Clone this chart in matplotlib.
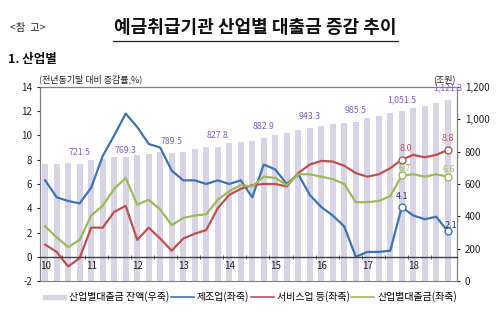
import numpy as np
import matplotlib

matplotlib.use("Agg")
import matplotlib.pyplot as plt
from matplotlib.lines import Line2D
from matplotlib.patches import Patch

plt.rcParams["font.family"] = ["Noto Sans CJK KR", "DejaVu Sans"]
plt.rcParams["axes.unicode_minus"] = False

# 분기별 (2010.1Q ~ 2018.4Q)
years = ["10", "11", "12", "13", "14", "15", "16", "17", "18"]

# 산업별대출금 잔액(조원, 우축)
balance = [722, 722, 727, 721.5, 748, 754, 769, 769.3,
           779, 785, 800, 789.5, 800, 814, 830, 827.8,
           851, 861, 867, 882.9, 903, 913, 933, 943.3,
           959, 970, 979, 985.5, 1010, 1020, 1037, 1051.5,
           1068, 1082, 1103, 1121.3]

# 전년동기말 대비 증감률(%, 좌축)
manuf = [6.3, 4.9, 4.6, 4.4, 5.7, 8.3, 10.0, 11.8,
         10.7, 9.3, 9.0, 7.1, 6.3, 6.3, 6.0, 6.3,
         6.0, 6.3, 4.9, 7.6, 7.2, 6.0, 6.8, 5.1,
         4.1, 3.4, 2.5, 0.0, 0.4, 0.4, 0.5, 4.1,
         3.4, 3.1, 3.3, 2.1]
service = [1.0, 0.4, -0.8, -0.1, 2.4, 2.4, 3.7, 4.2,
           1.4, 2.4, 1.5, 0.5, 1.5, 1.9, 2.2, 4.0,
           5.1, 5.6, 5.9, 6.0, 6.0, 5.8, 6.9, 7.6,
           7.9, 7.85, 7.5, 6.9, 6.6, 6.8, 7.3, 8.0,
           8.4, 8.2, 8.4, 8.8]
total = [2.5, 1.6, 0.8, 1.4, 3.4, 4.2, 5.6, 6.5,
         4.3, 4.7, 3.9, 2.6, 3.2, 3.4, 3.5, 4.7,
         5.4, 5.9, 5.8, 6.6, 6.5, 5.9, 6.8, 6.8,
         6.6, 6.4, 6.0, 4.5, 4.5, 4.6, 5.0, 6.7,
         6.8, 6.6, 6.8, 6.6]

C_BAR = "#d8d3e5"
C_BLUE = "#3d74b3"
C_RED = "#c0504d"
C_GREEN = "#9bbb59"
C_PURPLE = "#8060b8"
C_NAVY = "#1f3a68"
C_FRAME = "#7f7f7f"

x = np.arange(len(balance))

fig = plt.figure(figsize=(5, 3.33), dpi=100)
ax = fig.add_axes([0.080, 0.156, 0.834, 0.583])
ax2 = ax.twinx()

# 잔액 막대 (우축)
ax2.bar(x, balance, width=0.52, color=C_BAR, zorder=1)
ax2.set_ylim(0, 1200)
ax2.set_yticks(np.arange(0, 1201, 200))
ax2.set_yticklabels([f"{v:,}" for v in range(0, 1201, 200)])
for i in range(3, len(balance), 4):
    dy = 1 if i == 7 else 5
    ax2.annotate(f"{balance[i]:,.1f}", (x[i], balance[i]), xytext=(0, dy),
                 textcoords="offset points", ha="center", va="bottom",
                 fontsize=6.3, color=C_PURPLE)

# 증감률 선 (좌축)
ax.set_zorder(ax2.get_zorder() + 1)
ax.patch.set_visible(False)
ax.plot(x, manuf, color=C_BLUE, lw=1.6)
ax.plot(x, service, color=C_RED, lw=1.6)
ax.plot(x, total, color=C_GREEN, lw=1.6)

for series, col, tcol, offs in [
        (manuf, C_BLUE, C_NAVY, [(0, 4), (2, 1)]),
        (service, C_RED, C_RED, [(3, 5), (0, 5)]),
        (total, C_GREEN, C_GREEN, [(2, 2), (1, 2)])]:
    for i, off in zip([31, 35], offs):
        ax.plot(x[i], series[i], "o", ms=5, mfc="white", mec=col, mew=1.0, zorder=5)
        ax.annotate(f"{series[i]:.1f}", (x[i], series[i]), xytext=off,
                    textcoords="offset points", ha="center", va="bottom",
                    fontsize=6.5, color=tcol, zorder=6)

ax.set_xlim(-0.45, 35.8)
ax.set_ylim(-2, 14)
ax.set_yticks(np.arange(-2, 15, 2))

# 0선 위에 연도 표시
ax.spines["bottom"].set_position(("data", 0))
ax.spines["bottom"].set_color("#404040")
ax.spines["bottom"].set_linewidth(1.0)
ax.set_xticks(np.arange(0, 36, 4))
ax.set_xticklabels(years)
ax.set_xticks(np.arange(1.5, 35, 2), minor=True)
ax.tick_params(axis="x", which="major", length=0, pad=3, labelsize=7, colors="#222222")
ax.tick_params(axis="x", which="minor", length=3, direction="inout", color="#404040")
ax.tick_params(axis="y", length=2, labelsize=7, colors="#222222")
ax2.tick_params(axis="y", length=2, labelsize=7, colors="#222222")
for a in (ax, ax2):
    for s in ("left", "right", "top"):
        a.spines[s].set_color(C_FRAME)
ax2.spines["bottom"].set_color(C_FRAME)

fig.text(0.078, 0.752, "(전년동기말 대비 증감률,%)", fontsize=6.5, color="#222222")
fig.text(0.912, 0.752, "(조원)", fontsize=6.5, color="#222222", ha="right")

# 제목
fig.text(0.02, 0.915, "<참  고>", fontsize=7.5, color="#222222", va="center")
title = fig.text(0.51, 0.918, "예금취급기관 산업별 대출금 증감 추이", fontsize=13,
                 fontweight="bold", ha="center", va="center", color="#111111")
fig.add_artist(Line2D([0.226, 0.796], [0.878, 0.878], color="#222222", lw=0.9))
fig.text(0.016, 0.82, "1. 산업별", fontsize=9, fontweight="bold", va="center",
         color="#111111")

handles = [Patch(color=C_BAR),
           Line2D([], [], color=C_BLUE, lw=1.2),
           Line2D([], [], color=C_RED, lw=1.2),
           Line2D([], [], color=C_GREEN, lw=1.2)]
labels = ["산업별대출금 잔액(우축)", "제조업(좌축)", "서비스업 등(좌축)", "산업별대출금(좌축)"]
fig.legend(handles, labels, loc="center", bbox_to_anchor=(0.5, 0.108), ncol=4,
           frameon=False, fontsize=7.2, handlelength=2.3, handleheight=0.3,
           handletextpad=0.3, columnspacing=0.15, borderaxespad=0)

fig.savefig("out.png", dpi=100)
